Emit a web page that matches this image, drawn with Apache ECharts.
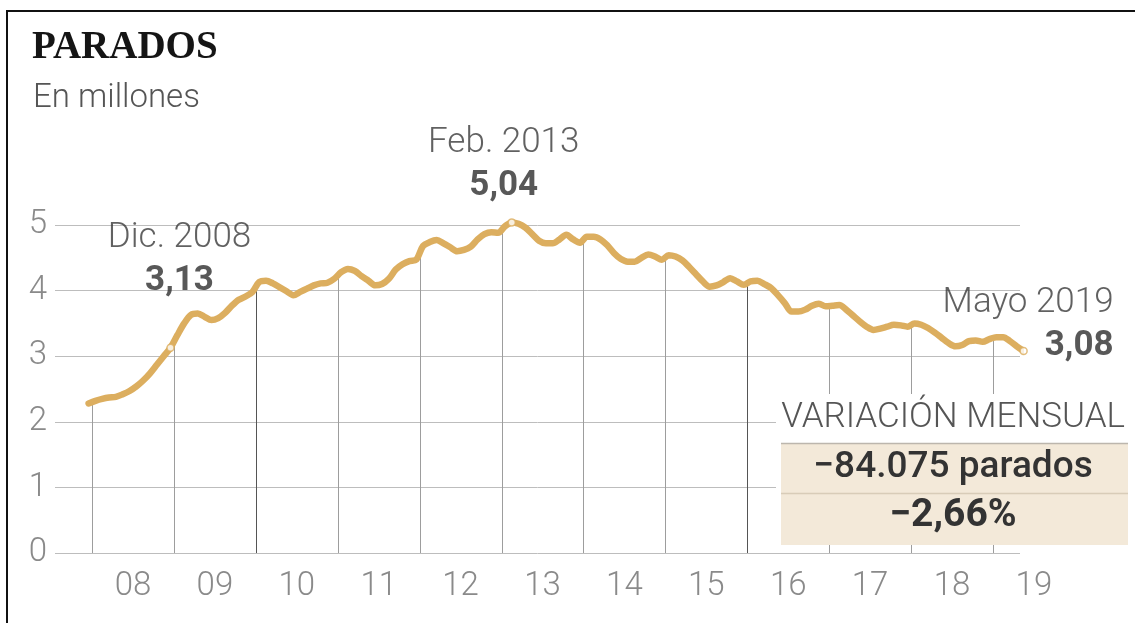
<!DOCTYPE html>
<html>
<head>
<meta charset="utf-8">
<script src="https://cdn.jsdelivr.net/npm/echarts@6/dist/echarts.min.js"></script>
<style>
  html, body { margin: 0; padding: 0; background: #fff; }
  #chart { width: 1135px; height: 623px; }
</style>
</head>
<body>
<div id="chart"></div>
<script>
// Paro registrado, millones de personas, dic. 2007 – mayo 2019 (mensual)
const firstYear = 2007;
const firstMonth = 12;
const paro2007 = [2.28];
const paro2008 = [2.32, 2.35, 2.37, 2.38, 2.42, 2.47, 2.54, 2.63, 2.74, 2.87, 3.00, 3.13];
const paro2009 = [3.32, 3.50, 3.63, 3.65, 3.60, 3.55, 3.58, 3.66, 3.77, 3.86, 3.91, 3.98];
const paro2010 = [4.13, 4.15, 4.11, 4.05, 3.99, 3.93, 3.98, 4.03, 4.08, 4.11, 4.12, 4.18];
const paro2011 = [4.28, 4.33, 4.30, 4.22, 4.15, 4.08, 4.10, 4.18, 4.32, 4.40, 4.45, 4.47];
const paro2012 = [4.68, 4.74, 4.77, 4.72, 4.66, 4.60, 4.62, 4.67, 4.78, 4.86, 4.89, 4.88];
const paro2013 = [4.98, 5.04, 5.02, 4.96, 4.86, 4.76, 4.72, 4.72, 4.78, 4.85, 4.78, 4.73];
const paro2014 = [4.82, 4.82, 4.78, 4.69, 4.57, 4.48, 4.44, 4.44, 4.50, 4.55, 4.52, 4.47];
const paro2015 = [4.54, 4.52, 4.46, 4.36, 4.25, 4.14, 4.06, 4.08, 4.13, 4.19, 4.14, 4.09];
const paro2016 = [4.14, 4.15, 4.10, 4.04, 3.93, 3.81, 3.68, 3.68, 3.71, 3.77, 3.80, 3.76];
const paro2017 = [3.77, 3.78, 3.71, 3.62, 3.53, 3.45, 3.40, 3.42, 3.45, 3.48, 3.47, 3.45];
const paro2018 = [3.50, 3.48, 3.43, 3.36, 3.28, 3.20, 3.15, 3.17, 3.23, 3.24, 3.22, 3.26];
const paro2019 = [3.29, 3.29, 3.23, 3.15, 3.08];

// Meses destacados con su etiqueta
const highlightMonths = ['2008-12', '2013-02', '2019-05'];
const monthNames = ['Ene.', 'Feb.', 'Mar.', 'Abr.', 'Mayo', 'Jun.', 'Jul.', 'Ago.', 'Sep.', 'Oct.', 'Nov.', 'Dic.'];

// Eje horizontal: un rótulo por año
const yearLabels = ['08', '09', '10', '11', '12', '13', '14', '15', '16', '17', '18', '19'];
const yTicks = [0, 1, 2, 3, 4, 5];

// Variación mensual (mayo 2019)
const monthlyChange = -84075;
const monthlyChangePct = -2.66;

const GOLD = '#dcae5f';
const FONT = 'Roboto';

const paro = [].concat(paro2007, paro2008, paro2009, paro2010, paro2011, paro2012,
  paro2013, paro2014, paro2015, paro2016, paro2017, paro2018, paro2019);

// Posición temporal de cada mes (centro del mes, en años)
const points = paro.map((v, i) => {
  const m = firstMonth - 1 + i;
  return [firstYear + (m + 0.5) / 12, v];
});
const monthKey = (i) => {
  const m = firstMonth - 1 + i;
  const y = firstYear + Math.floor(m / 12);
  return y + '-' + String((m % 12) + 1).padStart(2, '0');
};

// Líneas verticales de separación de años: desde 0 hasta la curva
const yearStarts = yearLabels.map((_, i) => 2008 + i);
const dividers = yearStarts.map((yr) => {
  const idx = (yr - firstYear) * 12 - (firstMonth - 1) - 1; // diciembre del año anterior
  const v = (paro[idx] + paro[idx + 1]) / 2;
  return [yr, v];
});

const fmtComma = (v) => v.toFixed(2).replace('.', ',');
const labelLayout = {
  '2008-12': { align: 'center', verticalAlign: 'bottom', offset: [9, -45] },
  '2013-02': { align: 'center', verticalAlign: 'bottom', offset: [-8, -15] },
  '2019-05': { align: 'right', verticalAlign: 'bottom', offset: [90, 17] }
};
const highlightData = highlightMonths.map((key) => {
  const i = paro.findIndex((_, j) => monthKey(j) === key);
  const month = parseInt(key.slice(5), 10);
  const lay = labelLayout[key];
  return {
    value: points[i],
    name: monthNames[month - 1] + ' ' + key.slice(0, 4),
    label: {
      align: lay.align,
      verticalAlign: lay.verticalAlign,
      offset: lay.offset,
      rich: {
        m: { fontFamily: FONT, fontWeight: 300, fontSize: 35, color: '#3a3a3a', lineHeight: 43, align: lay.align },
        v: { fontFamily: FONT, fontWeight: 'bold', fontSize: 35, color: '#2e2e2e', lineHeight: 43, align: lay.align }
      }
    }
  };
});

const fmtThousands = (n) => {
  const s = String(Math.abs(n)).replace(/\B(?=(\d{3})+(?!\d))/g, '.');
  return (n < 0 ? '\u2212' : '') + s;
};
const fmtPct = (p) => (p < 0 ? '\u2212' : '') + Math.abs(p).toFixed(2).replace('.', ',') + '%';

const chart = echarts.init(document.getElementById('chart'), null, { renderer: 'canvas' });

chart.setOption({
  animation: false,
  backgroundColor: '#fff',
  grid: { left: 55, right: 115, top: 225, bottom: 70 },
  xAxis: {
    type: 'value',
    min: 2007.548,
    max: 2019.331,
    axisLine: { show: false },
    axisTick: { show: false },
    splitLine: { show: false },
    axisLabel: {
      customValues: yearStarts,
      formatter: (val) => yearLabels[Math.round(val) - 2008],
      fontFamily: FONT,
      fontWeight: 300,
      fontSize: 33,
      color: '#8a8a8a',
      margin: 17,
      padding: [0, 0, 0, 82]
    }
  },
  yAxis: {
    type: 'value',
    min: yTicks[0],
    max: yTicks[yTicks.length - 1],
    interval: 1,
    axisLine: { show: false },
    axisTick: { show: false },
    splitLine: { lineStyle: { color: '#bdbdbd', width: 1 } },
    axisLabel: {
      fontFamily: FONT,
      fontWeight: 300,
      fontSize: 33,
      color: '#8a8a8a',
      margin: 8
    }
  },
  series: [
    {
      type: 'custom',
      z: 1,
      silent: true,
      data: dividers,
      renderItem: (params, api) => {
        const x = api.value(0);
        const p0 = api.coord([x, 0]);
        const p1 = api.coord([x, api.value(1)]);
        const dark = x === 2010 || x === 2016;
        return {
          type: 'line',
          shape: { x1: Math.round(p0[0]) + 0.5, y1: p0[1], x2: Math.round(p1[0]) + 0.5, y2: p1[1] },
          style: { stroke: dark ? '#555' : '#9d9d9d', lineWidth: 1 }
        };
      }
    },
    {
      type: 'line',
      z: 3,
      data: points,
      showSymbol: false,
      smooth: 0.3,
      clip: false,
      lineStyle: { color: GOLD, width: 6.5, cap: 'round', join: 'round' },
      silent: true
    },
    {
      type: 'scatter',
      z: 4,
      clip: false,
      data: highlightData,
      symbol: 'circle',
      symbolSize: 7,
      itemStyle: { color: '#fff', borderColor: GOLD, borderWidth: 1.5 },
      silent: true,
      label: {
        show: true,
        position: 'inside',
        formatter: (p) => '{m|' + p.name + '}\n{v|' + fmtComma(p.value[1]) + '}'
      }
    }
  ],
  graphic: [
    {
      type: 'rect', z: 100, silent: true,
      shape: { x: 7, y: 11, width: 1140, height: 630 },
      style: { fill: 'none', stroke: '#111', lineWidth: 2 }
    },
    {
      type: 'text', z: 100, silent: true,
      style: { text: 'PARADOS', x: 32, y: 48, textVerticalAlign: 'middle',
        font: 'bold 39px "Liberation Serif"', fill: '#151515' }
    },
    {
      type: 'text', z: 100, silent: true,
      style: { text: 'En millones', x: 33, y: 99, textVerticalAlign: 'middle',
        font: '300 33px Roboto', fill: '#555' }
    },
    {
      type: 'rect', z: 100, silent: true,
      shape: { x: 776, y: 394, width: 360, height: 151 },
      style: { fill: '#fff' }
    },
    {
      type: 'rect', z: 101, silent: true,
      shape: { x: 781, y: 443, width: 347, height: 102 },
      style: { fill: '#f3e9d9' }
    },
    {
      type: 'line', z: 102, silent: true,
      shape: { x1: 781, y1: 443.5, x2: 1128, y2: 443.5 },
      style: { stroke: '#bcb6ad', lineWidth: 1.5 }
    },
    {
      type: 'line', z: 102, silent: true,
      shape: { x1: 781, y1: 493.5, x2: 1128, y2: 493.5 },
      style: { stroke: '#d8ccb8', lineWidth: 1.5 }
    },
    {
      type: 'text', z: 103, silent: true,
      style: { text: 'VARIACIÓN MENSUAL', x: 1125, y: 418, textAlign: 'right', textVerticalAlign: 'middle',
        font: '300 35px Roboto', fill: '#555' }
    },
    {
      type: 'text', z: 103, silent: true,
      style: { text: fmtThousands(monthlyChange) + ' parados', x: 953, y: 468, textAlign: 'center', textVerticalAlign: 'middle',
        font: '500 37px Roboto', fill: '#333' }
    },
    {
      type: 'text', z: 103, silent: true,
      style: { text: fmtPct(monthlyChangePct), x: 953, y: 516, textAlign: 'center', textVerticalAlign: 'middle',
        font: 'bold 39px Roboto', fill: '#333' }
    }
  ]
});
</script>
</body>
</html>
